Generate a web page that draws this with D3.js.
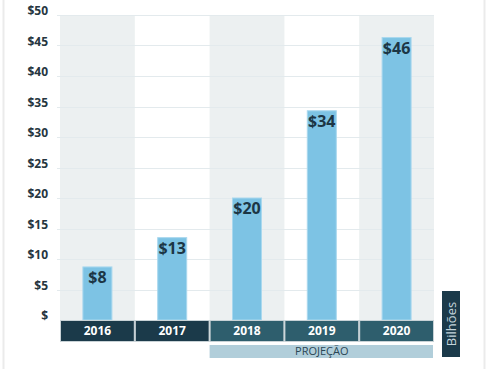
<!DOCTYPE html>
<html>
<head>
<meta charset="utf-8">
<script src="https://cdn.jsdelivr.net/npm/d3@7"></script>
<style>
  body { margin: 0; background: #fff; font-family: "Open Sans", sans-serif; }
</style>
</head>
<body>
<div id="chart"></div>
<script>
// data
var years = ["2016", "2017", "2018", "2019", "2020"];
var values = [8.7, 13.5, 20, 34.3, 46.3];
var valueLabels = ["$8", "$13", "$20", "$34", "$46"];
var yTicks = [0, 5, 10, 15, 20, 25, 30, 35, 40, 45, 50];
var projected = ["2018", "2019", "2020"];

var width = 489, height = 369;

var svg = d3.select("#chart")
  .append("svg")
  .attr("width", width)
  .attr("height", height);

// outer frame lines
svg.append("line").attr("x1", 3.5).attr("x2", 3.5).attr("y1", 0).attr("y2", height)
  .style("stroke", "#ebebeb").style("stroke-width", 2);
svg.append("line").attr("x1", 484.5).attr("x2", 484.5).attr("y1", 0).attr("y2", height)
  .style("stroke", "#ebebeb").style("stroke-width", 2);

var x = d3.scaleBand()
  .domain(years)
  .range([60, 434])
  .padding(0);

var y = d3.scaleLinear()
  .domain([0, 50])
  .range([320, 15]);

// alternating column bands
svg.selectAll(".band")
  .data(years.filter(function(d, i) { return i % 2 == 0; }))
  .enter().append("rect")
  .attr("class", "band")
  .attr("x", function(d) { return x(d); })
  .attr("y", y(50))
  .attr("width", x.bandwidth())
  .attr("height", y(0) - y(50))
  .style("fill", "#ecf0f1");

// gridlines
svg.selectAll(".grid")
  .data(yTicks.filter(function(d) { return d > 0; }))
  .enter().append("line")
  .attr("class", "grid")
  .attr("x1", 57)
  .attr("x2", 434)
  .attr("y1", function(d) { return Math.round(y(d)) + 0.5; })
  .attr("y2", function(d) { return Math.round(y(d)) + 0.5; })
  .style("stroke", "#e3eaed")
  .style("stroke-width", 1);

// y labels
svg.selectAll(".ylab")
  .data(yTicks)
  .enter().append("text")
  .attr("class", "ylab")
  .attr("x", 48)
  .attr("y", function(d) { return y(d) - 4; })
  .attr("dy", "0.35em")
  .attr("text-anchor", "end")
  .style("font-size", "12px")
  .style("font-weight", "bold")
  .style("fill", "#26363f")
  .text(function(d) { return d == 0 ? "$" : "$" + d; });

// bars
var barW = 29;
svg.selectAll(".bar")
  .data(values)
  .enter().append("rect")
  .attr("class", "bar")
  .attr("x", function(d, i) { return x(years[i]) + x.bandwidth() / 2 - barW / 2; })
  .attr("y", function(d) { return y(d); })
  .attr("width", barW)
  .attr("height", function(d) { return y(0) - y(d); })
  .style("fill", "#7dc3e4")
  .style("stroke", "#a9d8ee")
  .style("stroke-width", 1);

// value labels
svg.selectAll(".vlab")
  .data(values)
  .enter().append("text")
  .attr("class", "vlab")
  .attr("x", function(d, i) { return x(years[i]) + x.bandwidth() / 2; })
  .attr("y", function(d) { return y(d) + 16; })
  .attr("text-anchor", "middle")
  .style("font-size", "16px")
  .style("font-weight", "bold")
  .style("fill", "#1c3645")
  .text(function(d, i) { return valueLabels[i]; });

// year boxes
svg.selectAll(".ybox")
  .data(years)
  .enter().append("rect")
  .attr("class", "ybox")
  .attr("x", function(d) { return x(d) + 0.5; })
  .attr("y", 320.5)
  .attr("width", x.bandwidth() - 1)
  .attr("height", 21)
  .style("fill", function(d) { return projected.indexOf(d) >= 0 ? "#2e5e6d" : "#1b3a4a"; })
  .style("stroke", "#c8d2d6")
  .style("stroke-width", 1);

svg.selectAll(".ytext")
  .data(years)
  .enter().append("text")
  .attr("class", "ytext")
  .attr("x", function(d) { return x(d) + x.bandwidth() / 2; })
  .attr("y", 331)
  .attr("dy", "0.35em")
  .attr("text-anchor", "middle")
  .style("font-size", "12px")
  .style("font-weight", "bold")
  .style("fill", "#ffffff")
  .text(function(d) { return d; });

// projection bar
svg.append("rect")
  .attr("x", x(projected[0]))
  .attr("y", 345)
  .attr("width", x(projected[2]) + x.bandwidth() - x(projected[0]) - 1)
  .attr("height", 13)
  .style("fill", "#b1ceda");

svg.append("text")
  .attr("x", (x(projected[0]) + x(projected[2]) + x.bandwidth()) / 2)
  .attr("y", 351.5)
  .attr("dy", "0.35em")
  .attr("text-anchor", "middle")
  .style("font-size", "11px")
  .style("fill", "#2a4755")
  .text("PROJEÇÃO");

// unit box
svg.append("rect")
  .attr("x", 442)
  .attr("y", 291)
  .attr("width", 18)
  .attr("height", 66)
  .style("fill", "#1b3a4a");

svg.append("text")
  .attr("transform", "translate(451,324) rotate(-90)")
  .attr("dy", "0.35em")
  .attr("text-anchor", "middle")
  .style("font-size", "13px")
  .style("fill", "#c3d4db")
  .text("Bilhões");
</script>
</body>
</html>
